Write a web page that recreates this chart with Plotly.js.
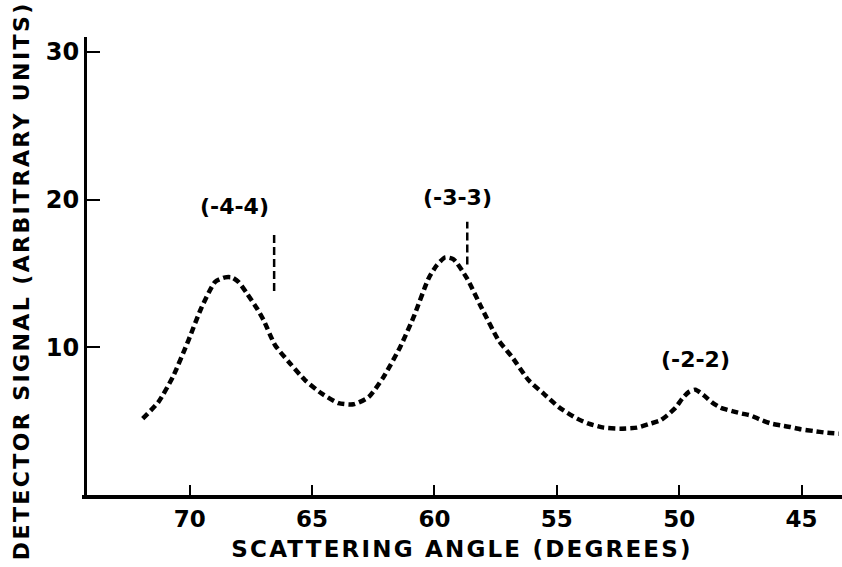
<!DOCTYPE html>
<html>
<head>
<meta charset="utf-8">
<script src="https://cdn.plot.ly/plotly-3.0.1.min.js"></script>
<style>
  html, body { margin: 0; padding: 0; background: #fff; }
  #chart { width: 842px; height: 567px; }
  .xtitle { letter-spacing: 2.2px; }
  .annotation[data-index="0"] text { letter-spacing: 2.4px; }
</style>
</head>
<body>
<div id="chart"></div>
<script>
// Scattering angle (degrees) and detector signal (arbitrary units)
const angle = [71.92, 71.28, 70.69, 70.05, 69.53, 68.96, 68.55, 68.28, 68.01, 67.66,
  67.25, 66.98, 66.51, 65.89, 65.28, 64.60, 63.92, 63.31, 62.69, 62.08,
  61.40, 60.85, 60.24, 59.90, 59.56, 59.22, 58.67, 58.06, 57.38, 56.83,
  56.15, 55.54, 54.92, 54.17, 53.70, 53.08, 52.40, 51.72, 51.18, 50.77,
  50.49, 50.15, 49.88, 49.61, 49.34, 49.00, 48.65, 48.31, 47.84, 47.43,
  47.09, 46.68, 46.27, 45.86, 45.45, 45.04, 44.50, 44.02, 43.48];
const signal = [5.17, 6.29, 7.99, 10.47, 12.64, 14.43, 14.73, 14.73, 14.43, 13.64,
  12.62, 11.83, 10.14, 8.89, 7.76, 6.86, 6.22, 6.14, 6.63, 7.99,
  10.02, 12.05, 14.66, 15.56, 16.08, 15.95, 14.66, 12.62, 10.47, 9.34,
  7.76, 6.86, 5.95, 5.17, 4.83, 4.56, 4.49, 4.56, 4.83, 5.05,
  5.39, 5.91, 6.52, 6.97, 7.13, 6.75, 6.25, 5.91, 5.68, 5.51,
  5.39, 5.10, 4.85, 4.72, 4.60, 4.45, 4.33, 4.22, 4.15];

// Bragg-angle markers (dashed verticals)
const markerAngle = [66.55, 58.66];
const markerLow = [13.8, 15.6];
const markerHigh = [17.8, 18.5];

// Peak labels
const peakLabel = ['(-4-4)', '(-3-3)', '(-2-2)'];
const peakLabelX = [68.18, 59.07, 49.34];
const peakLabelY = [19.56, 20.17, 9.2];

// Axis ticks and titles
const xTicks = [70, 65, 60, 55, 50, 45];
const yTicks = [10, 20, 30];
const xTitle = 'SCATTERING ANGLE (DEGREES)';
const yTitle = 'DETECTOR SIGNAL (ARBITRARY UNITS)';

const FONT = 'DejaVu Sans, Liberation Sans, sans-serif';

const traces = [{
  x: angle, y: signal, type: 'scatter', mode: 'lines',
  line: {color: '#000', width: 4.5, dash: '7px,4px', shape: 'spline', smoothing: 0.6},
  hoverinfo: 'skip'
}];
markerAngle.forEach((a, i) => {
  traces.push({
    x: [a, a], y: [markerLow[i], markerHigh[i]], type: 'scatter', mode: 'lines',
    line: {color: '#000', width: 2.5, dash: '8px,4px'}, hoverinfo: 'skip'
  });
});

// y-axis title placed as a rotated annotation (index 0) so it can sit where the original has it
const annotations = [{
  x: -0.079, y: 0.468, xref: 'paper', yref: 'paper', text: yTitle, textangle: -90,
  showarrow: false, xanchor: 'center', yanchor: 'middle',
  font: {family: FONT, size: 22, color: '#000', weight: 'bold'}
}].concat(peakLabel.map((t, i) => ({
  x: peakLabelX[i], y: peakLabelY[i], xref: 'x', yref: 'y', text: t,
  showarrow: false, font: {family: FONT, size: 22, color: '#000', weight: 'bold'}
})));

const layout = {
  width: 842, height: 567,
  margin: {l: 82, r: 0, t: 37, b: 72},
  paper_bgcolor: '#fff', plot_bgcolor: '#fff',
  showlegend: false,
  font: {family: FONT, color: '#000'},
  xaxis: {
    range: [74.4, 43.35], autorange: false,
    tickvals: xTicks, ticktext: xTicks.map(String),
    ticks: 'inside', ticklen: 10, tickwidth: 2, tickcolor: '#000',
    showline: true, linewidth: 4, linecolor: '#000',
    showgrid: false, zeroline: false,
    tickfont: {family: FONT, size: 23, color: '#000', weight: 'bold'},
    title: {text: xTitle, standoff: 11,
            font: {family: FONT, size: 23, color: '#000', weight: 'bold'}}
  },
  yaxis: {
    range: [0, 31], autorange: false,
    anchor: 'free', position: 0.004,
    tickvals: yTicks, ticktext: yTicks.map(String),
    ticks: 'inside', ticklen: 13, tickwidth: 2, tickcolor: '#000',
    showline: true, linewidth: 3, linecolor: '#000',
    showgrid: false, zeroline: false,
    tickfont: {family: FONT, size: 24, color: '#000', weight: 'bold'}
  },
  annotations: annotations
};

Plotly.newPlot('chart', traces, layout, {staticPlot: true, displayModeBar: false});
</script>
</body>
</html>
